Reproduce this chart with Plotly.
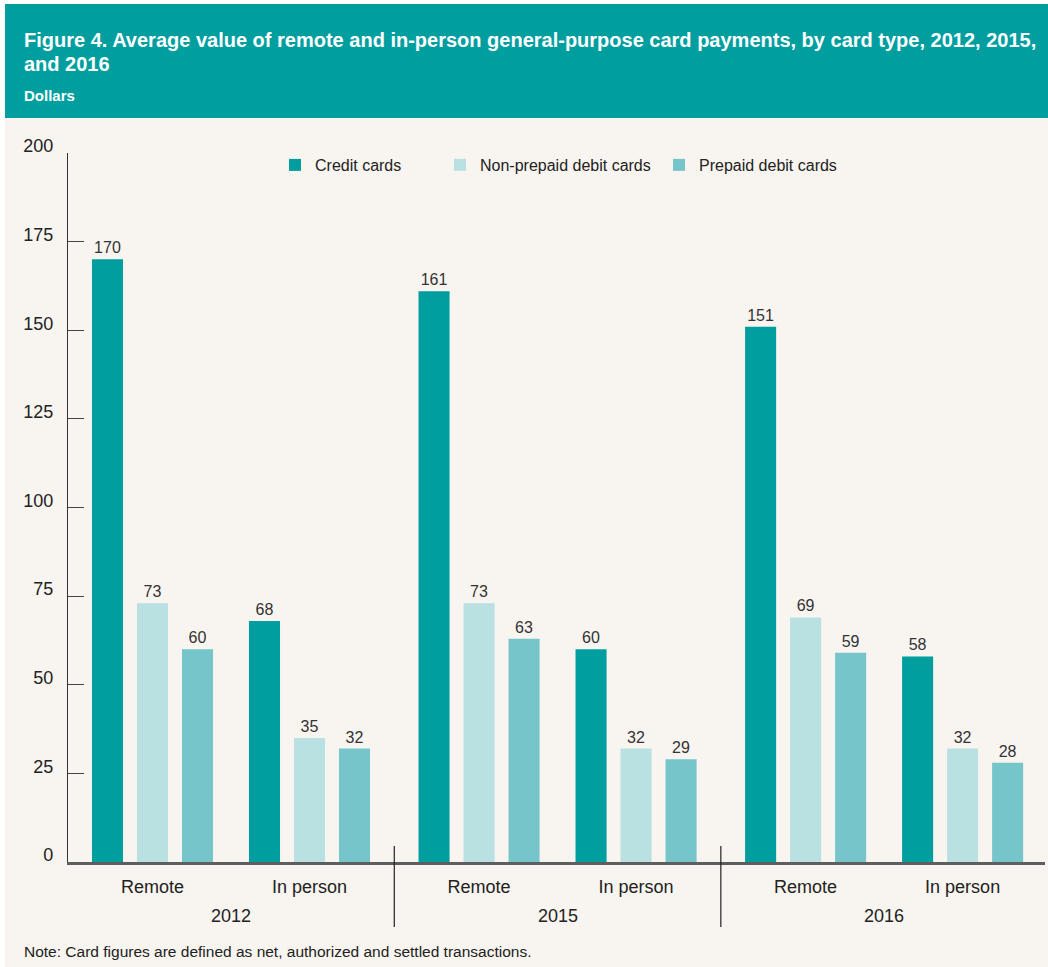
import plotly.graph_objects as go

# ---------------- data ----------------
years = ["2012", "2015", "2016"]
payment_types = ["Remote", "In person"]
series_names = ["Credit cards", "Non-prepaid debit cards", "Prepaid debit cards"]

# values ordered: 2012 Remote, 2012 In person, 2015 Remote, 2015 In person, 2016 Remote, 2016 In person
credit_cards = [170, 68, 161, 60, 151, 58]
nonprepaid_debit = [73, 35, 73, 32, 69, 32]
prepaid_debit = [60, 32, 63, 29, 59, 28]

y_ticks = [0, 25, 50, 75, 100, 125, 150, 175, 200]

title_line1 = "Figure 4. Average value of remote and in-person general-purpose card payments, by card type, 2012, 2015,"
title_line2 = "and 2016"
subtitle = "Dollars"
note = "Note: Card figures are defined as net, authorized and settled transactions."

colors = ["#009e9f", "#b9e1e2", "#76c5ca"]
series_values = [credit_cards, nonprepaid_debit, prepaid_debit]

# ---------------- layout geometry ----------------
W, H = 1048, 967
L, R, T, B = 68, 1045, 153, 862
BG = "#f8f4ef"
TEAL = "#009e9f"
FONT = "Liberation Sans, Arial, sans-serif"
YEAR_GAP = 0.08
LEGEND_X_PX = [275, 440, 659]


def px_x(p):
    return (p - L) / (R - L)


def px_y(p):
    return (B - p) / (B - T)


# category positions on a numeric axis (extra gap between years)
positions = []
tick_text = []
for yi, yr in enumerate(years):
    for ti, pt in enumerate(payment_types):
        positions.append(yi * len(payment_types) + ti + yi * YEAR_GAP)
        tick_text.append(pt)

legend_ids = ["legend", "legend2", "legend3"]

fig = go.Figure()
for name, vals, col, lid in zip(series_names, series_values, colors, legend_ids):
    fig.add_trace(go.Bar(
        name=name, x=positions, y=vals, legend=lid,
        marker=dict(color=col, line=dict(width=0)),
        text=[str(v) for v in vals], textposition="outside",
        textfont=dict(size=16, color="#333333", family=FONT),
        cliponaxis=False,
    ))

# year labels and separators
year_centers = [(positions[2 * i] + positions[2 * i + 1]) / 2 for i in range(len(years))]
annotations = []
for yc, yr in zip(year_centers, years):
    annotations.append(dict(x=yc, xref="x", y=px_y(916), yref="paper", text=yr,
                            showarrow=False, font=dict(size=18, color="#222222", family=FONT),
                            xanchor="center", yanchor="middle"))

shapes = []
# white outer frame then teal header band
shapes.append(dict(type="rect", xref="paper", yref="paper", x0=px_x(0), x1=px_x(W), y0=px_y(0), y1=px_y(4),
                   fillcolor="white", line=dict(width=0), layer="below"))
shapes.append(dict(type="rect", xref="paper", yref="paper", x0=px_x(0), x1=px_x(5), y0=px_y(0), y1=px_y(H),
                   fillcolor="white", line=dict(width=0), layer="below"))
shapes.append(dict(type="rect", xref="paper", yref="paper", x0=px_x(5), x1=px_x(W), y0=px_y(4), y1=px_y(118),
                   fillcolor=TEAL, line=dict(width=0), layer="below"))

for i in range(len(years) - 1):
    xs = (positions[2 * i + 1] + positions[2 * i + 2]) / 2
    shapes.append(dict(type="line", xref="x", yref="paper", x0=xs, x1=xs, y0=px_y(846), y1=px_y(927),
                       line=dict(color="#222222", width=1.2)))

annotations += [
    dict(x=px_x(22), y=px_y(40), xref="paper", yref="paper", text="<b>" + title_line1 + "</b>",
         showarrow=False, xanchor="left", yanchor="middle", font=dict(size=20, color="white", family=FONT)),
    dict(x=px_x(22), y=px_y(64), xref="paper", yref="paper", text="<b>" + title_line2 + "</b>",
         showarrow=False, xanchor="left", yanchor="middle", font=dict(size=20, color="white", family=FONT)),
    dict(x=px_x(22), y=px_y(96), xref="paper", yref="paper", text="<b>" + subtitle + "</b>",
         showarrow=False, xanchor="left", yanchor="middle", font=dict(size=15, color="white", family=FONT)),
    dict(x=px_x(22), y=px_y(951), xref="paper", yref="paper", text=note,
         showarrow=False, xanchor="left", yanchor="middle", font=dict(size=15.5, color="#222222", family=FONT)),
]

x_min = positions[0] - (152.5 - L) / 157.0
x_max = positions[0] + (R - 152.5) / 157.0

legend_common = dict(orientation="h", y=px_y(165), xanchor="left", yanchor="middle",
                     font=dict(size=16, color="#222222", family=FONT), bgcolor="rgba(0,0,0,0)")

fig.update_layout(
    width=W, height=H,
    margin=dict(l=L, r=W - R, t=T, b=H - B, pad=0),
    paper_bgcolor=BG, plot_bgcolor=BG,
    font=dict(family=FONT, color="#222222"),
    barmode="group", bargap=0.14, bargroupgap=0.31,
    showlegend=True,
    legend=dict(x=px_x(LEGEND_X_PX[0]), **legend_common),
    legend2=dict(x=px_x(LEGEND_X_PX[1]), **legend_common),
    legend3=dict(x=px_x(LEGEND_X_PX[2]), **legend_common),
    xaxis=dict(range=[x_min, x_max], tickvals=positions, ticktext=tick_text, showgrid=False,
               zeroline=False, showline=True, linecolor="#5e5e5e", linewidth=2.5, ticks="",
               tickfont=dict(size=18, color="#222222", family=FONT), ticklabelstandoff=7, fixedrange=True),
    yaxis=dict(range=[0, 200], tickvals=y_ticks, showgrid=False, zeroline=False, showline=True,
               linecolor="#333333", linewidth=1.2, ticks="inside", ticklen=16, tickcolor="#444444",
               tickwidth=1.2, tickfont=dict(size=18, color="#222222", family=FONT),
               ticklabelstandoff=10, ticklabelshift=-7, fixedrange=True),
    annotations=annotations, shapes=shapes,
)

fig.write_html("out.html", config={"displayModeBar": False},
               post_script="document.body.style.margin='0px';document.body.style.padding='0px';")
